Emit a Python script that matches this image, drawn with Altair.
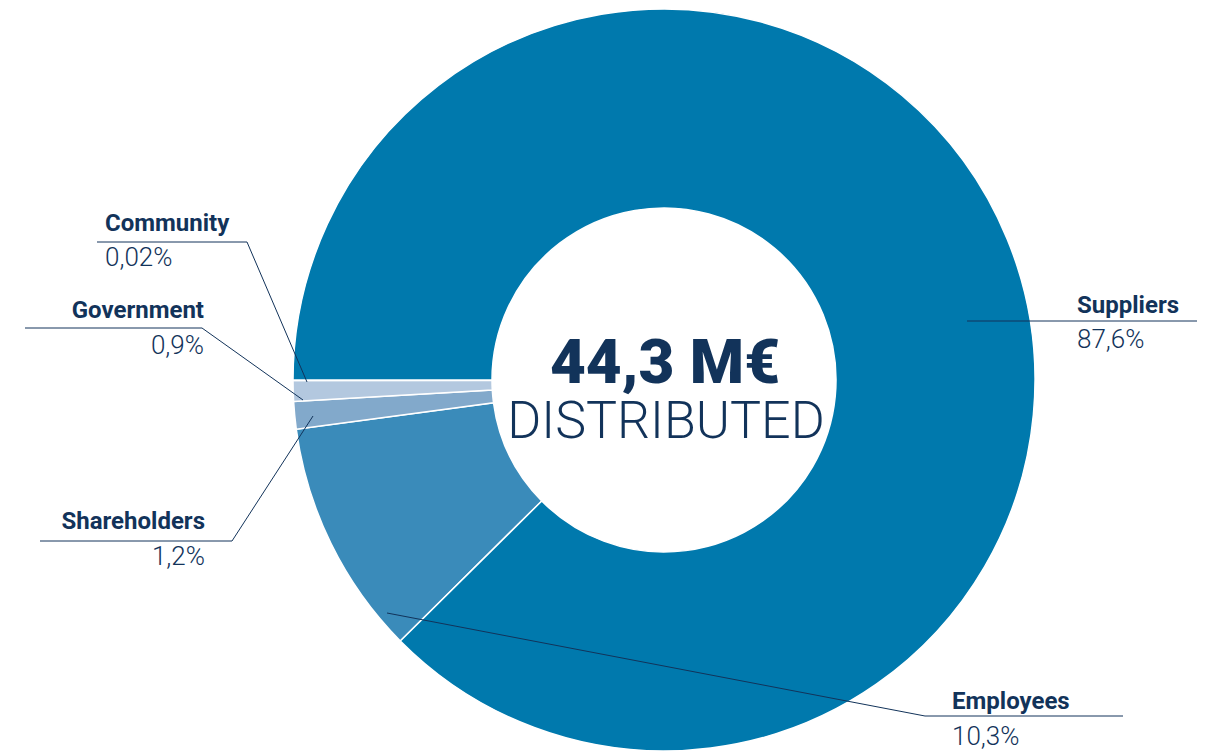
import math
import altair as alt
import pandas as pd

# ---- data ----
categories = ["Employees", "Shareholders", "Government", "Community", "Suppliers"]
shares = [10.3, 1.2, 0.9, 0.02, 87.6]
pct_labels = ["10,3%", "1,2%", "0,9%", "0,02%", "87,6%"]
colors = ["#3A8BBA", "#82A9CB", "#B3C8DF", "#D9E4EF", "#0079AD"]
total_label = "44,3 M€"
subtitle = "DISTRIBUTED"

# ---- layout ----
W, H = 1214, 751
CX, CY = 664, 380
R_OUT, R_IN = 371, 172
NAVY = "#12335A"
FONT = "Roboto"

label_x = [952, 205, 204, 105, 1077]
name_y = [709, 529, 318, 231, 313]
pct_y = [745, 565, 354, 266, 348]
label_align = ["left", "right", "right", "left", "left"]

anchor_pts = [(387, 613), (313, 416), (303, 400), (307, 382), (967, 321)]
elbow_pts = [(925, 716), (232, 541), (202, 328), (247, 242), (967, 321)]
end_pts = [(1123, 716), (40, 541), (25, 328), (97, 242), (1197, 321)]

# Community slice ends at 9 o'clock, slices run clockwise
before = sum(shares[:4]) / sum(shares) * 2 * math.pi
start = 1.5 * math.pi - before

pie_df = pd.DataFrame({"cat": categories, "share": shares, "ord": list(range(len(categories)))})

lab_df = pd.DataFrame({
    "cat": categories, "pct": pct_labels, "x": label_x,
    "ny": name_y, "py": pct_y, "align": label_align,
})

seg_rows = []
for c, a, e, z in zip(categories, anchor_pts, elbow_pts, end_pts):
    seg_rows.append({"cat": c, "x": a[0], "y": a[1], "x2": e[0], "y2": e[1]})
    seg_rows.append({"cat": c, "x": e[0], "y": e[1], "x2": z[0], "y2": z[1]})
seg_df = pd.DataFrame(seg_rows)

xs = alt.Scale(domain=[0, W], range=[0, W])
ys = alt.Scale(domain=[0, H], range=[0, H])

pie = alt.Chart(pie_df).mark_arc(
    outerRadius=R_OUT, innerRadius=R_IN, stroke="white", strokeWidth=1.5
).encode(
    theta=alt.Theta("share:Q", stack=True, scale=alt.Scale(range=[start, start + 2 * math.pi])),
    order=alt.Order("ord:Q"),
    color=alt.Color("cat:N", scale=alt.Scale(domain=categories, range=colors), legend=None),
    x=alt.value(CX),
    y=alt.value(CY),
)

leaders = alt.Chart(seg_df).mark_rule(color=NAVY, strokeWidth=1).encode(
    x=alt.X("x:Q", scale=xs, axis=None),
    y=alt.Y("y:Q", scale=ys, axis=None),
    x2="x2:Q",
    y2="y2:Q",
)

def label_layer(align):
    d = lab_df[lab_df["align"] == align]
    base = alt.Chart(d)
    names = base.mark_text(align=align, baseline="alphabetic", font=FONT, fontSize=24,
                           fontWeight="bold", color=NAVY).encode(
        x=alt.X("x:Q", scale=xs, axis=None), y=alt.Y("ny:Q", scale=ys, axis=None), text="cat:N")
    pcts = base.mark_text(align=align, baseline="alphabetic", font=FONT, fontSize=26,
                          fontWeight=300, color=NAVY).encode(
        x=alt.X("x:Q", scale=xs, axis=None), y=alt.Y("py:Q", scale=ys, axis=None), text="pct:N")
    return names + pcts

center_df = pd.DataFrame({"t": [total_label, subtitle], "x": [665, 666], "y": [383, 438],
                          "w": ["big", "sub"]})
big = alt.Chart(center_df[center_df.w == "big"]).mark_text(
    align="center", baseline="alphabetic", font=FONT, fontSize=62, fontWeight=900, color=NAVY
).encode(x=alt.X("x:Q", scale=xs, axis=None), y=alt.Y("y:Q", scale=ys, axis=None), text="t:N")
sub = alt.Chart(center_df[center_df.w == "sub"]).mark_text(
    align="center", baseline="alphabetic", font=FONT, fontSize=52, fontWeight=300, color=NAVY
).encode(x=alt.X("x:Q", scale=xs, axis=None), y=alt.Y("y:Q", scale=ys, axis=None), text="t:N")

chart = alt.layer(
    pie, leaders, label_layer("left"), label_layer("right"), big, sub
).resolve_scale(color="independent").properties(
    width=W, height=H, padding=0, autosize=alt.AutoSizeParams(type="none"), background="white"
).configure_view(stroke=None)

chart.save("out.html", embed_options={"renderer": "svg", "actions": False})
